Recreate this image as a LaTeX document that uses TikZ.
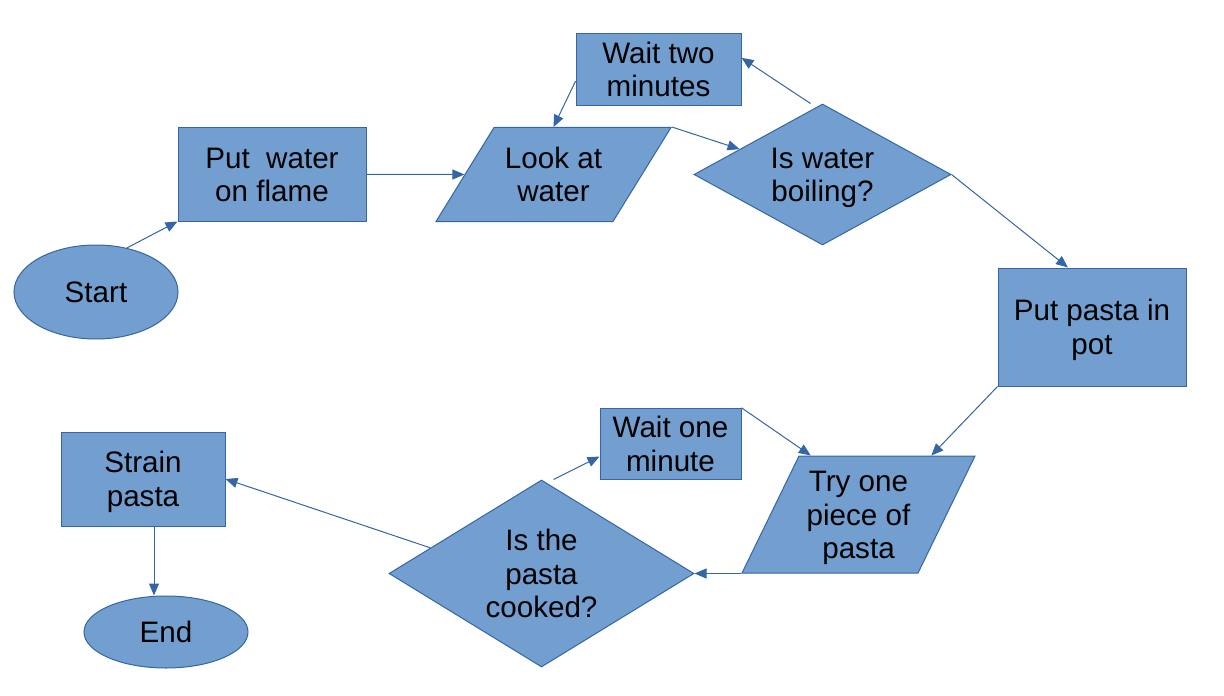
\documentclass[tikz,border=0pt]{standalone}
\usepackage{fontspec}
\setmainfont{Liberation Sans}
\usetikzlibrary{arrows.meta,positioning,shapes.geometric}
\definecolor{boxfill}{HTML}{729FCF}
\definecolor{boxline}{HTML}{3465A4}
\newcommand\botstrut{\rule[-3.1pt]{0pt}{3.1pt}}

\begin{document}
\begin{tikzpicture}[
  x=0.5pt, y=-0.5pt,
  font=\fontsize{14.8}{16.8}\selectfont,
  textrows/.style={execute at begin node={\rule{0pt}{\dimexpr13.8pt+16.8pt*#1-16.8pt\relax}}},
  box/.style={draw=boxline, fill=boxfill, line width=0.5pt, align=center, inner sep=1pt,
    textrows=1, execute at end node=\botstrut},
  proc/.style={box, rectangle},
  terminal/.style={box, ellipse},
  io/.style={box, trapezium, trapezium stretches body},
  decision/.style={box, diamond, inner sep=0pt},
  flow/.style={-{Triangle[length=6pt,width=5pt]}, line width=0.5pt, draw=boxline}
]
\useasboundingbox (0,0) rectangle (1224,695);

\node[terminal, minimum width=82pt, minimum height=47pt] (start) at (96,292) {Start};
\node[proc, textrows=2, minimum width=94pt, minimum height=46.5pt] (putwater) at (272,174.5) {Put\ \ water\\on flame};
\node[io, textrows=2, trapezium left angle=50.9, trapezium right angle=129.1,
  minimum width=117.5pt, minimum height=47pt] (lookwater) at (553.5,174.5) {Look at\\water};
\node[proc, textrows=2, minimum width=82.5pt, minimum height=34.5pt] (waittwo) at (658.5,69.5) {Wait two\\minutes};
\node[decision, textrows=2, shape aspect=1.82, minimum width=128.5pt, minimum height=70.5pt] (isboil) at (822.5,174.5) {Is water\\boiling?};
\node[proc, textrows=2, minimum width=94pt, minimum height=59pt] (putpasta) at (1092,327) {Put pasta in\\pot};
\node[io, textrows=3, trapezium left angle=61.5, trapezium right angle=118.5,
  minimum width=116.5pt, minimum height=58.5pt] (tryone) at (858.5,514.5) {Try one\\piece of\\pasta};
\node[proc, textrows=2, minimum width=70.5pt, minimum height=35pt] (waitone) at (670.5,444) {Wait one\\minute};
\node[decision, textrows=3, shape aspect=1.63, minimum width=152.5pt, minimum height=93.5pt] (iscooked) at (541.5,573.5) {Is the\\pasta\\cooked?};
\node[proc, textrows=2, minimum width=82pt, minimum height=47pt] (strain) at (143,479) {Strain\\pasta};
\node[terminal, minimum width=82pt, minimum height=36pt] (end) at (166,632) {End};

\draw[flow] (start.55) -- (putwater.south west);
\draw[flow] (putwater.east) -- (lookwater.west);
\draw[flow] (lookwater.top right corner) -- (isboil.163);
\draw[flow] ([xshift=-6pt]isboil.north) -- (waittwo.8);
\draw[flow] (waittwo.188) -- (lookwater.north);
\draw[flow] (isboil.east) -- (putpasta.112);
\draw[flow] (putpasta.south west) -- (tryone.39);
\draw[flow] (tryone.bottom left corner) -- (iscooked.east);
\draw[flow] (waitone.north east) -- (tryone.129);
\draw[flow] ([xshift=6pt]iscooked.north) -- (waitone.190);
\draw[flow] (iscooked.167) -- (strain.east);
\draw[flow] ([xshift=5.5pt]strain.south) -- ([xshift=5.5pt]strain.south |- end.north);
\end{tikzpicture}
\end{document}
